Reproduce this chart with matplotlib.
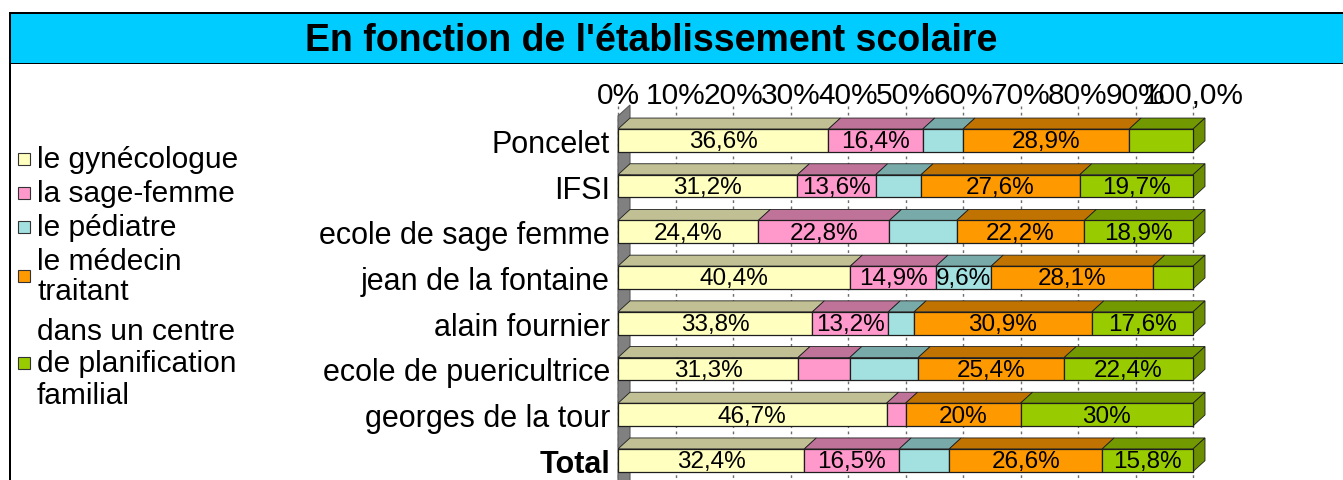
import matplotlib
matplotlib.use("Agg")
import matplotlib.pyplot as plt
from matplotlib.patches import Rectangle, Polygon

plt.rcParams['font.family'] = ['Liberation Sans', 'DejaVu Sans']

# ---------------------------------------------------------------- data
title = "En fonction de l'établissement scolaire"
schools = ["Poncelet", "IFSI", "ecole de sage femme", "jean de la fontaine",
           "alain fournier", "ecole de puericultrice", "georges de la tour", "Total"]
series_names = ["le gynécologue", "la sage-femme", "le pédiatre",
                "le médecin\ntraitant",
                "dans un centre\nde planification\nfamilial"]

gynecologue = [36.6, 31.2, 24.4, 40.4, 33.8, 31.3, 46.7, 32.4]
sage_femme = [16.4, 13.6, 22.8, 14.9, 13.2, 9.0, 3.3, 16.5]
pediatre = [7.0, 7.9, 11.7, 9.6, 4.5, 11.9, 0.0, 8.7]
medecin = [28.9, 27.6, 22.2, 28.1, 30.9, 25.4, 20.0, 26.6]
planification = [11.1, 19.7, 18.9, 7.0, 17.6, 22.4, 30.0, 15.8]

# data labels printed on each series
show_gyn = [True, True, True, True, True, True, True, True]
show_sage = [True, True, True, True, True, False, False, True]
show_ped = [False, False, False, True, False, False, False, False]
show_med = [True, True, True, True, True, True, True, True]
show_plan = [False, True, True, False, True, True, True, True]

tick_values = [0, 10, 20, 30, 40, 50, 60, 70, 80, 90, 100]
tick_labels = ["0%", "10%", "20%", "30%", "40%", "50%", "60%", "70%",
               "80%", "90%", "100,0%"]

series = [gynecologue, sage_femme, pediatre, medecin, planification]
shows = [show_gyn, show_sage, show_ped, show_med, show_plan]
front_colors = ["#FFFFC0", "#FF99CC", "#A3E0E0", "#FF9900", "#99CC00"]
top_colors = ["#C0C094", "#C07399", "#78AAAA", "#C07300", "#739900"]
side_color = "#6B8F00"
edge = "#1E1E1E"

# ---------------------------------------------------------------- layout (pixels)
W, H = 1343, 481
X0 = 618.0          # 0 % on the front face
PX_PCT = 5.75       # pixels per percent
ROW0 = 141.4        # centre of first bar
PITCH = 45.7        # distance between bars
AX_TOP, AX_BOTTOM = 110.0, 481.0
BAR_H = 22.7 / PITCH
DX = 12.0 / PX_PCT
DY = 11.0 / PITCH


def fx(px):
    return px / W


def fy(py):
    return 1 - py / H


def row(py):
    return (py - ROW0) / PITCH


def pct(v):
    s = f"{v:.1f}".replace(".", ",")
    if s.endswith(",0"):
        s = s[:-2]
    return s + "%"


fig = plt.figure(figsize=(W / 100, H / 100), dpi=100)
fig.patch.set_facecolor("white")

# title band
fig.add_artist(Rectangle((fx(10), fy(65)), fx(W - 10), (65 - 14) / H,
                         transform=fig.transFigure, fc="#00CCFF", ec="none"))
fig.add_artist(Rectangle((fx(9), fy(15)), fx(W - 9), 2 / H,
                         transform=fig.transFigure, fc="black", ec="none"))
fig.add_artist(Rectangle((fx(9), fy(65.3)), fx(W - 9), 1.2 / H,
                         transform=fig.transFigure, fc="black", ec="none"))
fig.add_artist(Rectangle((fx(9), fy(H)), 2 / W, (H - 13) / H,
                         transform=fig.transFigure, fc="black", ec="none"))
fig.text(fx(651), fy(41), title, ha="center", va="center",
         fontsize=27, fontweight="bold")

# plot area
ax = fig.add_axes([fx(X0), 0, fx(W - X0), (AX_BOTTOM - AX_TOP) / H])
ax.set_xlim(0, (W - X0) / PX_PCT)
ax.set_ylim(row(AX_BOTTOM), row(AX_TOP))
for sp in ax.spines.values():
    sp.set_visible(False)
ax.patch.set_alpha(0)

# side wall
wall_top = row(117)
ax.add_patch(Polygon([(0, wall_top), (DX, wall_top - DY), (DX, row(H + 5)),
                      (0, row(H + 5))], closed=True, fc="#808080",
                     ec="#5A5A5A", lw=0.8, zorder=1, clip_on=False))

# gridlines
ax.vlines(tick_values, row(107), row(H + 2), colors="#6E6E6E",
          linestyles=(0, (2, 2.5)), lw=1, zorder=0.5, clip_on=False)

# bars
for r in range(len(schools)):
    left = 0.0
    top_y = r - BAR_H / 2
    for s, vals in enumerate(series):
        v = vals[r]
        if v <= 0:
            continue
        ax.add_patch(Rectangle((left, top_y), v, BAR_H, fc=front_colors[s],
                               ec=edge, lw=0.9, zorder=3))
        ax.add_patch(Polygon([(left, top_y), (left + v, top_y),
                              (left + v + DX, top_y - DY),
                              (left + DX, top_y - DY)], closed=True,
                             fc=top_colors[s], ec=edge, lw=0.6, zorder=2.5))
        if shows[s][r]:
            ax.text(left + v / 2, r + 0.02, pct(v), ha="center", va="center",
                    fontsize=17.5, zorder=4)
        left += v
    ax.add_patch(Polygon([(left, top_y), (left + DX, top_y - DY),
                          (left + DX, top_y + BAR_H - DY),
                          (left, top_y + BAR_H)], closed=True,
                         fc=side_color, ec=edge, lw=0.6, zorder=2.6))

# axis labels
ax.set_yticks(range(len(schools)))
ax.set_yticklabels(schools, fontsize=22)
ax.get_yticklabels()[-1].set_fontweight("bold")
ax.tick_params(axis="y", length=0, pad=5.8)
ax.xaxis.tick_top()
ax.set_xticks(tick_values)
ax.set_xticklabels(tick_labels, fontsize=21.5)
ax.tick_params(axis="x", length=0, pad=0)

# legend
legend_y = [160, 194, 228, 277, 364]
legend_spacing = [1.05, 1.05, 1.05, 1.05, 1.2]
for name, col, ly, ls in zip(series_names, front_colors, legend_y,
                             legend_spacing):
    sq = 12
    fig.add_artist(Rectangle((fx(18), fy(ly + sq / 2)), sq / W, sq / H,
                             transform=fig.transFigure, fc=col, ec="#333333",
                             lw=0.8))
    fig.text(fx(37), fy(ly), name, ha="left", va="center", fontsize=21.5,
             linespacing=ls)

fig.savefig("out.png", dpi=100)
